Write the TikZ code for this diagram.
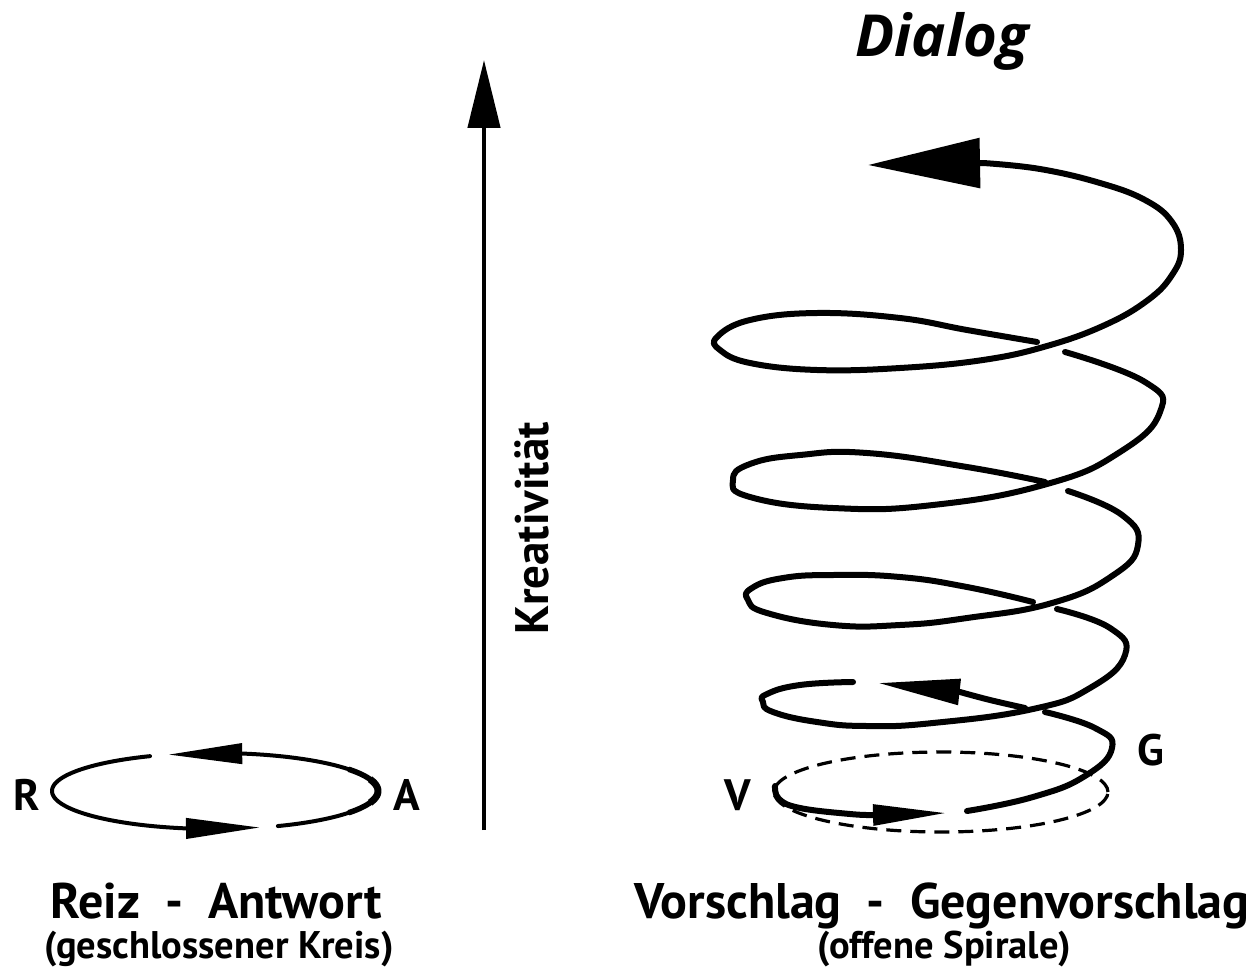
\documentclass[tikz,border=0pt]{standalone}
\usepackage{fontspec}
\setmainfont{PT Sans}
\newfontfamily\dialogfont{Open Sans}
\usetikzlibrary{arrows.meta}
\begin{document}
\begin{tikzpicture}[x=1pt,y=-1pt,
  spiral/.style={line width=6pt, line cap=round, line join=round},
  ring/.style={line width=4pt, line cap=round},
  dashring/.style={line width=3.2pt, dash pattern=on 15pt off 9pt},
  letter/.style={font=\fontsize{44}{48}\selectfont\bfseries, inner sep=0pt},
  title/.style={font=\fontsize{50}{54}\selectfont\bfseries, inner sep=0pt, anchor=base},
  sub/.style={font=\fontsize{38.5}{42}\selectfont\bfseries, inner sep=0pt, anchor=base},
  smallhead/.style={-{Triangle[length=74pt,width=20pt]}},
]
\useasboundingbox (0,0) rectangle (1260,971);
\fill[white] (0,0) rectangle (1260,971);

% vertical axis
\coordinate (axisbottom) at (484,830);
\coordinate (axistop) at (484,60);
\draw[line width=4.5pt, -{Triangle[length=68pt,width=32pt]}] (axisbottom) -- (axistop);
\node[font=\fontsize{47}{50}\selectfont\bfseries, rotate=90, inner sep=0pt] (krea) at (532,528) {Kreativität};

% closed circle (left)
\draw[ring, smallhead] plot[domain=-67.3:80, samples=80] ({215+163*cos(\x)},{791-38*sin(\x)}) -- (168.2,754.6);
\draw[ring, smallhead] plot[domain=113.5:260, samples=80] ({215+163*cos(\x)},{791-38*sin(\x)}) -- (260,827.5);
\draw[line width=5.5pt] plot[domain=-35:35, samples=40] ({215+163*cos(\x)},{791-38*sin(\x)});
\draw[line width=7pt] plot[domain=-18:18, samples=30] ({215+163*cos(\x)},{791-38*sin(\x)});

\node[letter] (R) at (27,795) {R};
\node[letter] (A) at (407,795) {A};

% open spiral (right)
\draw[dashring] (941,792) ellipse [x radius=167pt, y radius=40pt];

\draw[spiral, smallhead] plot[smooth, tension=0.7] coordinates
  {(775,786) (779,799) (800,808) (850,814) (873,815)} -- (947,813);
\draw[spiral] plot[smooth, tension=0.8] coordinates
  {(967,811) (1033,797) (1085,776) (1112,748) (1095,728) (1045,712)};
\draw[spiral, -{Triangle[length=82pt,width=25pt]}] plot[smooth, tension=0.7] coordinates
  {(1025,708) (990,700) (960,692)} -- (878,683);
\draw[spiral] plot[smooth, tension=0.8] coordinates
  {(853,682) (800,685) (767,694) (763,702) (773,712) (817,722) (867,726) (933,723)
   (1033,709) (1090,688) (1125,655) (1110,628) (1057,609)};
\draw[spiral] plot[smooth, tension=0.8] coordinates
  {(1033,602) (967,587) (900,577) (833,575) (783,578) (752,588) (748,600) (767,613)
   (833,625) (900,625) (967,618) (1052,603) (1112,576) (1138,545) (1122,515)
   (1068,491)};
\draw[spiral] plot[smooth, tension=0.8] coordinates
  {(1045,482) (967,467) (867,453) (800,455) (750,464) (733,480) (750,497) (833,508)
   (933,505) (1047,484) (1120,452) (1160,412) (1145,382) (1065,352)};
\draw[spiral, -{Triangle[length=112pt,width=49pt]}] plot[smooth, tension=0.7] coordinates
  {(1037,342) (967,330) (900,318) (817,313) (750,320) (717,337) (720,350) (750,363)
   (817,370) (900,368) (983,360) (1047,346) (1105,325) (1148,300) (1172,275) (1181,250)
   (1172,222) (1145,200) (1100,183) (1040,169) (983,163)} -- (868,165);

\node[letter] (V) at (738,795) {V};
\node[letter] (G) at (1151,750) {G};

% titles
\node[font=\dialogfont\fontsize{58}{62}\selectfont\bfseries\itshape, inner sep=0pt, anchor=base] (dialog) at (942,57) {Dialog};
\node[title] (reiz) at (216,918) {Reiz\ \ -\ \ Antwort};
\node[sub] (kreis) at (219,958) {(geschlossener Kreis)};
\node[title] (vorschlag) at (942,918) {Vorschlag\ \ -\ \ Gegenvorschlag};
\node[sub] (spirale) at (944,958) {(offene Spirale)};
\end{tikzpicture}
\end{document}
